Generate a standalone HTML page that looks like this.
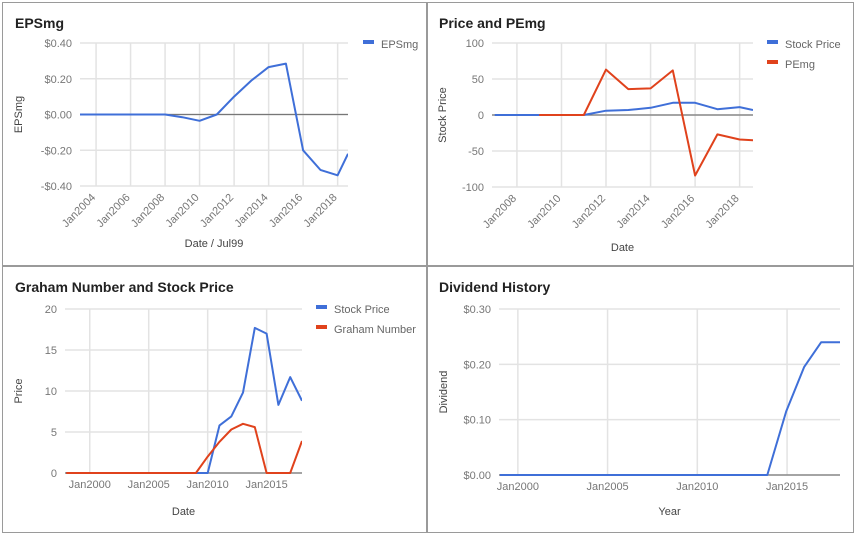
<!DOCTYPE html>
<html><head><meta charset="utf-8"><style>
body{margin:0;background:#fff;}
svg{display:block;font-family:"Liberation Sans",Arial,sans-serif;}
</style></head><body>
<svg id="s" width="856" height="535">
<g id="bg">
<rect x="2.5" y="2.5" width="424" height="263" fill="#fff" stroke="#9a9a9a"/>
<rect x="427.5" y="2.5" width="426" height="263" fill="#fff" stroke="#9a9a9a"/>
<rect x="2.5" y="266.5" width="424" height="266" fill="#fff" stroke="#9a9a9a"/>
<rect x="427.5" y="266.5" width="426" height="266" fill="#fff" stroke="#9a9a9a"/>
</g>
</svg>
<script>
// Chart 1: EPSmg
const epsYears=[2003,2004,2005,2006,2007,2008,2009,2010,2011,2012,2013,2014,2015,2016,2017,2018,2018.6];
const epsValues=[0,0,0,0,0,0,-0.015,-0.035,0,0.1,0.19,0.265,0.285,-0.2,-0.31,-0.34,-0.22];
const epsTicks=["$0.40","$0.20","$0.00","-$0.20","-$0.40"];
// Chart 2: Price and PEmg
const pYears=[2007,2008,2009,2010,2011,2012,2013,2014,2015,2016,2017,2018,2018.6];
const pPrice=[0,0,0,0,0,6,7,10,17,17,8,11,7];
const peYears=[2009,2010,2011,2012,2013,2014,2015,2016,2017,2018,2018.6];
const pePE=[0,0,0,63,36,37,62,-84,-27,-34,-35];
const pTicks=["100","50","0","-50","-100"];
// Chart 3: Graham
const gYears=[1998,2000,2002,2004,2006,2008,2009,2010,2011,2012,2013,2014,2015,2016,2017,2018];
const gPrice=[0,0,0,0,0,0,0,0,5.8,6.9,9.8,17.7,17,8.3,11.7,8.8];
const gGraham=[0,0,0,0,0,0,0,2,3.8,5.3,6,5.6,0,0,0,3.9];
const gTicks=["20","15","10","5","0"];
// Chart 4: Dividend
const dYears=[1999,2005,2010,2013.9,2014.95,2015.95,2016.9,2017.95];
const dDiv=[0,0,0,0,0.115,0.195,0.24,0.24];
const dTicks=["$0.30","$0.20","$0.10","$0.00"];

const NS="http://www.w3.org/2000/svg";
const svg=document.getElementById('s');
function mk(tag,attrs,parent,text){const e=document.createElementNS(NS,tag);for(const k in attrs)e.setAttribute(k,attrs[k]);if(text!==undefined)e.textContent=text;(parent||svg).appendChild(e);return e;}
function scale(d0,d1,r0,r1){return v=>r0+(v-d0)*(r1-r0)/(d1-d0);}

function chart(cfg){
  const g=mk('g',{});
  
  
  const X=scale(cfg.x0,cfg.x1,cfg.left,cfg.right), Y=scale(cfg.ymin,cfg.ymax,cfg.bottom,cfg.top);
  const t=mk('text',{x:cfg.tx,y:cfg.ty,'font-size':14,'font-weight':'bold',fill:'#222'},g,cfg.title);
  
  
  // horizontal grid + y ticks
  const n=cfg.ticks.length;
  cfg.ticks.forEach((lab,i)=>{
    const v=cfg.ymax-(cfg.ymax-cfg.ymin)*i/(n-1);
    const y=Y(v);
    const isZero=Math.abs(v)<1e-9;
    mk('line',{x1:cfg.left,x2:cfg.right,y1:y,y2:y,stroke:'#e3e3e3','stroke-width':1.5},g);
    const tl=mk('text',{x:cfg.left-8,y:y+4,'font-size':11,fill:'#777','text-anchor':'end'},g,lab);
    
    
  });
  // vertical grid + x ticks
  cfg.xt.forEach(yr=>{
    const x=X(yr);
    mk('line',{x1:x,x2:x,y1:cfg.top,y2:cfg.bottom,stroke:'#e3e3e3','stroke-width':1.5},g);
    let tl;
    if(cfg.rot){tl=mk('text',{x:x,y:cfg.bottom+12,'font-size':11,fill:'#777','text-anchor':'end',transform:`rotate(-45 ${x} ${cfg.bottom+12})`},g,'Jan'+yr);}
    else tl=mk('text',{x:x,y:cfg.bottom+15,'font-size':11,fill:'#777','text-anchor':'middle'},g,'Jan'+yr);
    
    
  });
  const zy=Y(0);
  mk('line',{x1:cfg.left,x2:cfg.right,y1:zy,y2:zy,stroke:'#777','stroke-width':1.3},g);
  const xa=mk('text',{x:(cfg.left+cfg.right)/2,y:cfg.xty,'font-size':11,fill:'#444','text-anchor':'middle'},g,cfg.xtitle);
  
  
  const ym=(cfg.top+cfg.bottom)/2;
  const ya=mk('text',{x:cfg.ytx,y:ym,'font-size':11,fill:'#444','text-anchor':'middle',transform:`rotate(-90 ${cfg.ytx} ${ym})`},g,cfg.ytitle);
  
  
  const clip='c'+cfg.name;
  const cp=mk('clipPath',{id:clip},g);mk('rect',{x:cfg.left,y:cfg.top-5,width:cfg.right-cfg.left,height:cfg.bottom-cfg.top+10},cp);
  cfg.series.forEach((s,i)=>{
    const pts=s.xs.map((x,j)=>X(x).toFixed(1)+','+Y(s.ys[j]).toFixed(1)).join(' ');
    const p=mk('polyline',{points:pts,fill:'none',stroke:s.color,'stroke-width':2,'stroke-linejoin':'round','clip-path':`url(#${clip})`},g);
    
    
    const ly=cfg.ly+i*20;
    const le=mk('g',{},g);
    
    
    mk('rect',{x:cfg.lx,y:ly-4,width:11,height:4,fill:s.color},le);
    mk('text',{x:cfg.lx+18,y:ly+4,'font-size':11,fill:'#666'},le,s.label);
  });
}
chart({name:'epsmg-chart',title:'EPSmg',tx:15,ty:28,left:80,right:348,top:43,bottom:186,x0:2003.07,x1:2018.6,ymin:-0.4,ymax:0.4,
  ticks:epsTicks,xt:[2004,2006,2008,2010,2012,2014,2016,2018],rot:true,xtitle:'Date / Jul99',xty:247,ytitle:'EPSmg',ytx:22,
  lx:363,ly:44,series:[{name:'epsmg',label:'EPSmg',color:'#3f6fd8',xs:epsYears,ys:epsValues}]});
chart({name:'price-pemg-chart',title:'Price and PEmg',tx:439,ty:28,left:492,right:753,top:43,bottom:187,x0:2006.88,x1:2018.6,ymin:-100,ymax:100,
  ticks:pTicks,xt:[2008,2010,2012,2014,2016,2018],rot:true,xtitle:'Date',xty:251,ytitle:'Stock Price',ytx:446,
  lx:767,ly:44,series:[{name:'stock-price',label:'Stock Price',color:'#3f6fd8',xs:pYears,ys:pPrice},{name:'pemg',label:'PEmg',color:'#e0421c',xs:peYears,ys:pePE}]});
chart({name:'graham-chart',title:'Graham Number and Stock Price',tx:15,ty:292,left:65,right:302,top:309,bottom:473,x0:1997.9,x1:2018,ymin:0,ymax:20,
  ticks:gTicks,xt:[2000,2005,2010,2015],rot:false,xtitle:'Date',xty:515,ytitle:'Price',ytx:22,
  lx:316,ly:309,series:[{name:'stock-price',label:'Stock Price',color:'#3f6fd8',xs:gYears,ys:gPrice},{name:'graham-number',label:'Graham Number',color:'#e0421c',xs:gYears,ys:gGraham}]});
chart({name:'dividend-chart',title:'Dividend History',tx:439,ty:292,left:499,right:840,top:309,bottom:475,x0:1998.95,x1:2017.95,ymin:0,ymax:0.3,
  ticks:dTicks,xt:[2000,2005,2010,2015],rot:false,xtitle:'Year',xty:515,ytitle:'Dividend',ytx:447,
  lx:2000,ly:0,series:[{name:'dividend',label:'',color:'#3f6fd8',xs:dYears,ys:dDiv}]});
</script>
</body></html>
